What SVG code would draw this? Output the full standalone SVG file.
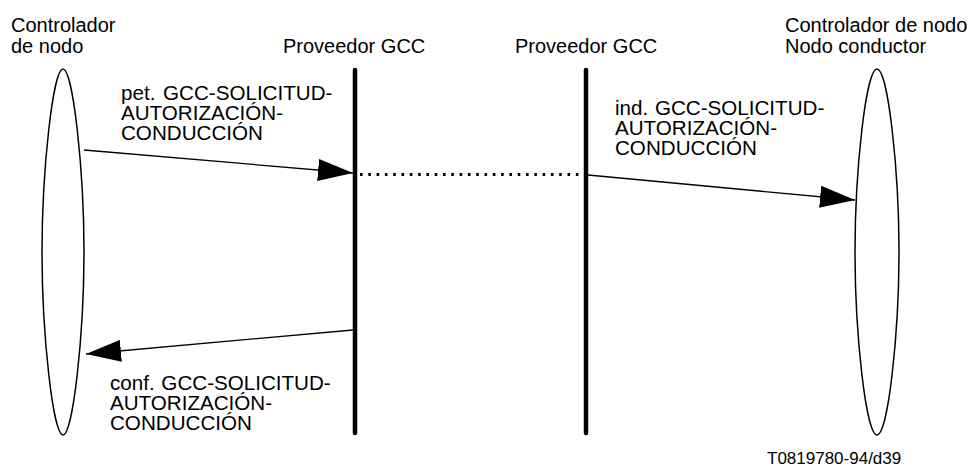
<svg xmlns="http://www.w3.org/2000/svg" width="971" height="468" viewBox="0 0 971 468">
<style>
text{font-family:"Liberation Sans",Arial,sans-serif;font-size:20px;fill:#000}
.lbl{font-size:20.6px}
.node{fill:none;stroke:#000;stroke-width:1.5}
.life{stroke:#000;stroke-width:4.5;stroke-linecap:round}
.msg{stroke:#000;stroke-width:1.3;fill:none;marker-end:url(#ah)}
.dots{stroke:#000;stroke-width:3;stroke-dasharray:2.6 5.7;fill:none}
.ft{font-size:17px}
</style>
<defs>
<marker id="ah" viewBox="0 0 35 22" refX="35" refY="11" markerWidth="35" markerHeight="22" markerUnits="userSpaceOnUse" orient="auto">
<path d="M0,0 L35,11 L0,22 Z" fill="#000"/>
</marker>
</defs>
<g id="node-left">
<path class="node" d="M63,69 C73,69 84,170 84,252 C84,334 73,435 63,435 C53,435 42,334 42,252 C42,170 53,69 63,69 Z"/>
<text x="11" y="32">Controlador</text>
<text x="11" y="53">de nodo</text>
</g>
<g id="provider-left">
<line class="life" x1="355" y1="70" x2="355" y2="433"/>
<text x="283" y="53">Proveedor GCC</text>
</g>
<g id="provider-right">
<line class="life" x1="586" y1="70" x2="586" y2="433"/>
<text x="515" y="53">Proveedor GCC</text>
</g>
<g id="node-right">
<path class="node" d="M877,69 C888,69 899,170 899,252 C899,334 888,435 877,435 C866,435 855,334 855,252 C855,170 866,69 877,69 Z"/>
<text x="785" y="32">Controlador de nodo</text>
<text x="785" y="53">Nodo conductor</text>
</g>
<g id="connectors">
<line class="msg" x1="84" y1="150" x2="353" y2="173"/>
<line class="dots" x1="360" y1="174.5" x2="583" y2="174.5"/>
<line class="msg" x1="588" y1="175" x2="855" y2="200"/>
<line class="msg" x1="353" y1="330" x2="86" y2="354"/>
</g>
<g id="labels">
<text class="lbl" x="121" y="100" word-spacing="2">pet. GCC-SOLICITUD-</text>
<text class="lbl" x="121" y="120">AUTORIZACIÓN-</text>
<text class="lbl" x="121" y="140">CONDUCCIÓN</text>
<text class="lbl" x="615" y="115" word-spacing="1">ind. GCC-SOLICITUD-</text>
<text class="lbl" x="615" y="135">AUTORIZACIÓN-</text>
<text class="lbl" x="615" y="155">CONDUCCIÓN</text>
<text class="lbl" x="110" y="390" word-spacing="1">conf. GCC-SOLICITUD-</text>
<text class="lbl" x="110" y="410">AUTORIZACIÓN-</text>
<text class="lbl" x="110" y="430">CONDUCCIÓN</text>
<text class="ft" x="767" y="464">T0819780-94/d39</text>
</g>
</svg>
